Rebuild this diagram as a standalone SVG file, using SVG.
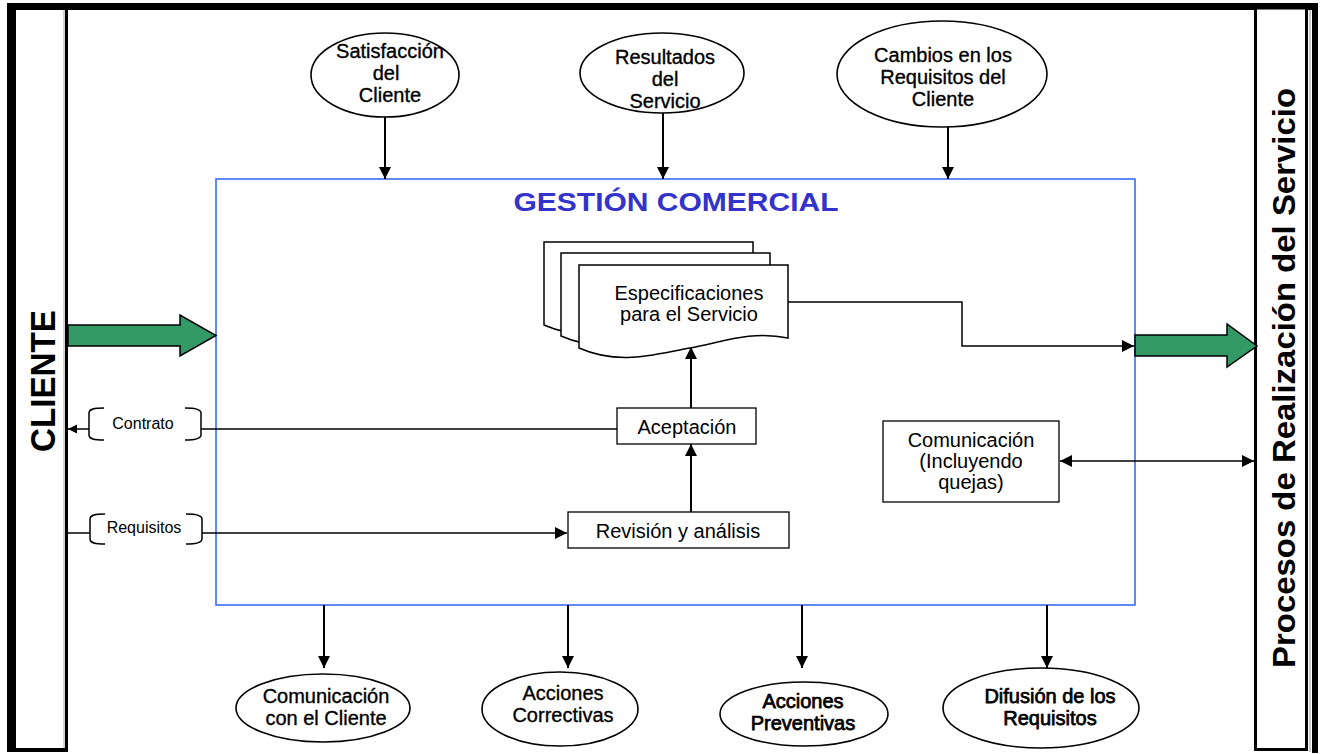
<svg xmlns="http://www.w3.org/2000/svg" width="1322" height="754" viewBox="0 0 1322 754">
  <defs>
    <style>
      .t { font-family: "Liberation Sans", Arial, sans-serif; fill: #000; text-anchor: middle; }
      .n { font-size: 20px; }
      .s { font-size: 16px; }
      .b { font-weight: bold; }
      .h { stroke: #000; stroke-width: 0.35; }
      .hh { stroke: #000; stroke-width: 0.75; }
      .el { fill: #fff; stroke: #000; stroke-width: 1.6; }
      .box { fill: #fff; stroke: #000; stroke-width: 1.3; }
      .doc { fill: #fff; stroke: #000; stroke-width: 1.5; }
      .ln { fill: none; stroke: #000; stroke-width: 1.5; }
      .lnb { fill: none; stroke: #000; stroke-width: 2; }
      .big { fill: #339966; stroke: #000; stroke-width: 1.5; stroke-linejoin: miter; }
    </style>
    <marker id="ah" markerUnits="userSpaceOnUse" markerWidth="14" markerHeight="14" refX="12" refY="6" orient="auto-start-reverse">
      <path d="M0,0 L12,6 L0,12 Z" fill="#000"/>
    </marker>
    <marker id="ahs" markerUnits="userSpaceOnUse" markerWidth="12" markerHeight="12" refX="9" refY="4.5" orient="auto-start-reverse">
      <path d="M0,0 L9,4.5 L0,9 Z" fill="#000"/>
    </marker>
  </defs>

  <rect width="1322" height="754" fill="#fff"/>

  <!-- outer frame -->
  <g id="frame">
    <rect x="7" y="3" width="1311" height="7" fill="#000"/>
    <rect x="1312" y="3" width="6" height="750" fill="#000"/>
    <line x1="1310" y1="10" x2="1310" y2="752" stroke="#999" stroke-width="1"/>
  </g>

  <!-- left column: CLIENTE -->
  <g id="cliente">
    <rect x="7" y="3" width="61" height="749" fill="#000"/>
    <rect x="16" y="10" width="49" height="738" fill="#fff"/>
    <line x1="64" y1="10" x2="64" y2="748" stroke="#aaa" stroke-width="1"/>
    <text class="t b" font-size="35" textLength="142" lengthAdjust="spacingAndGlyphs" transform="translate(55,381) rotate(-90)">CLIENTE</text>
  </g>

  <!-- right column: service realisation processes -->
  <g id="procesos">
    <rect x="1255.5" y="8" width="51" height="741.5" fill="#fff" stroke="#000" stroke-width="3"/>
    <text class="t b" font-size="32" textLength="580" lengthAdjust="spacingAndGlyphs" transform="translate(1295,378) rotate(-90)">Procesos de Realización del Servicio</text>
  </g>

  <!-- main process box -->
  <g id="gestion">
    <rect x="216" y="179" width="919" height="426" fill="none" stroke="#3a6cf4" stroke-width="1.6"/>
    <text class="t b" x="676" y="211" font-size="26" style="fill:#3333cc" textLength="325" lengthAdjust="spacingAndGlyphs">GESTIÓN COMERCIAL</text>
  </g>

  <!-- input ellipses -->
  <g id="satisfaccion">
    <ellipse class="el" cx="385" cy="75" rx="74" ry="42"/>
    <text class="t n h"><tspan x="390" y="58">Satisfacción</tspan><tspan x="386" y="80">del</tspan><tspan x="390" y="102">Cliente</tspan></text>
  </g>
  <g id="resultados">
    <ellipse class="el" cx="662" cy="73" rx="82" ry="40"/>
    <text class="t n h"><tspan x="665" y="64">Resultados</tspan><tspan x="665" y="86">del</tspan><tspan x="665" y="108">Servicio</tspan></text>
  </g>
  <g id="cambios">
    <ellipse class="el" cx="942" cy="74" rx="105" ry="53"/>
    <text class="t n h"><tspan x="943" y="62">Cambios en los</tspan><tspan x="943" y="84">Requisitos del</tspan><tspan x="943" y="106">Cliente</tspan></text>
  </g>

  <!-- output ellipses -->
  <g id="comunicacion-cliente">
    <ellipse class="el" cx="323" cy="708" rx="87" ry="34"/>
    <text class="t n h"><tspan x="326" y="703">Comunicación</tspan><tspan x="326" y="725">con el Cliente</tspan></text>
  </g>
  <g id="correctivas">
    <ellipse class="el" cx="560" cy="709" rx="78" ry="37"/>
    <text class="t n h"><tspan x="563" y="700">Acciones</tspan><tspan x="563" y="722">Correctivas</tspan></text>
  </g>
  <g id="preventivas">
    <ellipse class="el" cx="804" cy="714" rx="84" ry="32"/>
    <text class="t n hh"><tspan x="803" y="708">Acciones</tspan><tspan x="803" y="730">Preventivas</tspan></text>
  </g>
  <g id="difusion">
    <ellipse class="el" cx="1041" cy="708" rx="98" ry="40"/>
    <text class="t n hh"><tspan x="1050" y="703">Difusión de los</tspan><tspan x="1050" y="725">Requisitos</tspan></text>
  </g>

  <!-- specification documents (stack of three) -->
  <g id="especificaciones">
    <path class="doc" transform="translate(-35,-23)" d="M579,265 H788 V338 C750,330 720,343 690,348 C655,354 620,366 579,348 Z"/>
    <path class="doc" transform="translate(-18,-12)" d="M579,265 H788 V338 C750,330 720,343 690,348 C655,354 620,366 579,348 Z"/>
    <path class="doc" d="M579,265 H788 V338 C750,330 720,343 690,348 C655,354 620,366 579,348 Z"/>
    <text class="t n" font-size="20.5"><tspan x="689" y="300">Especificaciones</tspan><tspan x="689" y="321">para el Servicio</tspan></text>
  </g>

  <g id="aceptacion">
    <rect class="box" x="617" y="408" width="139" height="36"/>
    <text class="t n" x="687" y="434">Aceptación</text>
  </g>
  <g id="revision">
    <rect class="box" x="568" y="512" width="221" height="36"/>
    <text class="t n" x="678" y="538">Revisión y análisis</text>
  </g>
  <g id="comunicacion">
    <rect class="box" x="883" y="421" width="176" height="81"/>
    <text class="t n"><tspan x="971" y="447">Comunicación</tspan><tspan x="971" y="468">(Incluyendo</tspan><tspan x="971" y="489">quejas)</tspan></text>
  </g>

  <!-- bracketed labels on the client exchange lines -->
  <g id="contrato">
    <path class="ln" d="M104,408 C94,408 89,409 89,413 V435 C89,439 94,440 104,440"/>
    <path class="ln" d="M185,408 C195,408 201,409 201,413 V435 C201,439 195,440 185,440"/>
    <text class="t s" x="143" y="429">Contrato</text>
  </g>
  <g id="requisitos">
    <path class="ln" d="M105,514 C95,514 90,515 90,519 V539 C90,543 95,544 105,544"/>
    <path class="ln" d="M186,514 C196,514 202,515 202,519 V539 C202,543 196,544 186,544"/>
    <text class="t s" x="144" y="533">Requisitos</text>
  </g>

  <!-- connectors -->
  <g id="connectors">
    <!-- wide flows -->
    <path class="big" d="M68,325 H180 V315 L216,335.5 L180,356 V346 H68 Z"/>
    <path class="big" d="M1135,335 H1227 V324 L1257,346 L1227,367 V356 H1135 Z"/>

    <!-- inputs from the top -->
    <line class="lnb" x1="385" y1="117" x2="385" y2="179" marker-end="url(#ah)"/>
    <line class="lnb" x1="663" y1="113" x2="663" y2="179" marker-end="url(#ah)"/>
    <line class="lnb" x1="948" y1="127" x2="948" y2="179" marker-end="url(#ah)"/>

    <!-- outputs to the bottom -->
    <line class="lnb" x1="324" y1="605" x2="324" y2="668" marker-end="url(#ah)"/>
    <line class="lnb" x1="568" y1="605" x2="568" y2="668" marker-end="url(#ah)"/>
    <line class="lnb" x1="802" y1="605" x2="802" y2="668" marker-end="url(#ah)"/>
    <line class="lnb" x1="1047" y1="605" x2="1047" y2="668" marker-end="url(#ah)"/>

    <!-- internal flow -->
    <line class="lnb" x1="691" y1="512" x2="691" y2="444" marker-end="url(#ah)"/>
    <line class="lnb" x1="691" y1="408" x2="691" y2="347" marker-end="url(#ah)"/>
    <path class="ln" d="M788,302 H962 V346 H1134" marker-end="url(#ah)"/>

    <!-- client exchanges -->
    <line class="ln" x1="617" y1="429" x2="201" y2="429"/>
    <line class="ln" x1="89" y1="429" x2="68" y2="429" marker-end="url(#ahs)"/>
    <line class="ln" x1="68" y1="533" x2="90" y2="533"/>
    <line class="ln" x1="202" y1="533" x2="567" y2="533" marker-end="url(#ah)"/>

    <!-- two-way communication -->
    <line class="ln" x1="1060" y1="461" x2="1254" y2="461" marker-start="url(#ah)" marker-end="url(#ah)"/>
  </g>
</svg>
